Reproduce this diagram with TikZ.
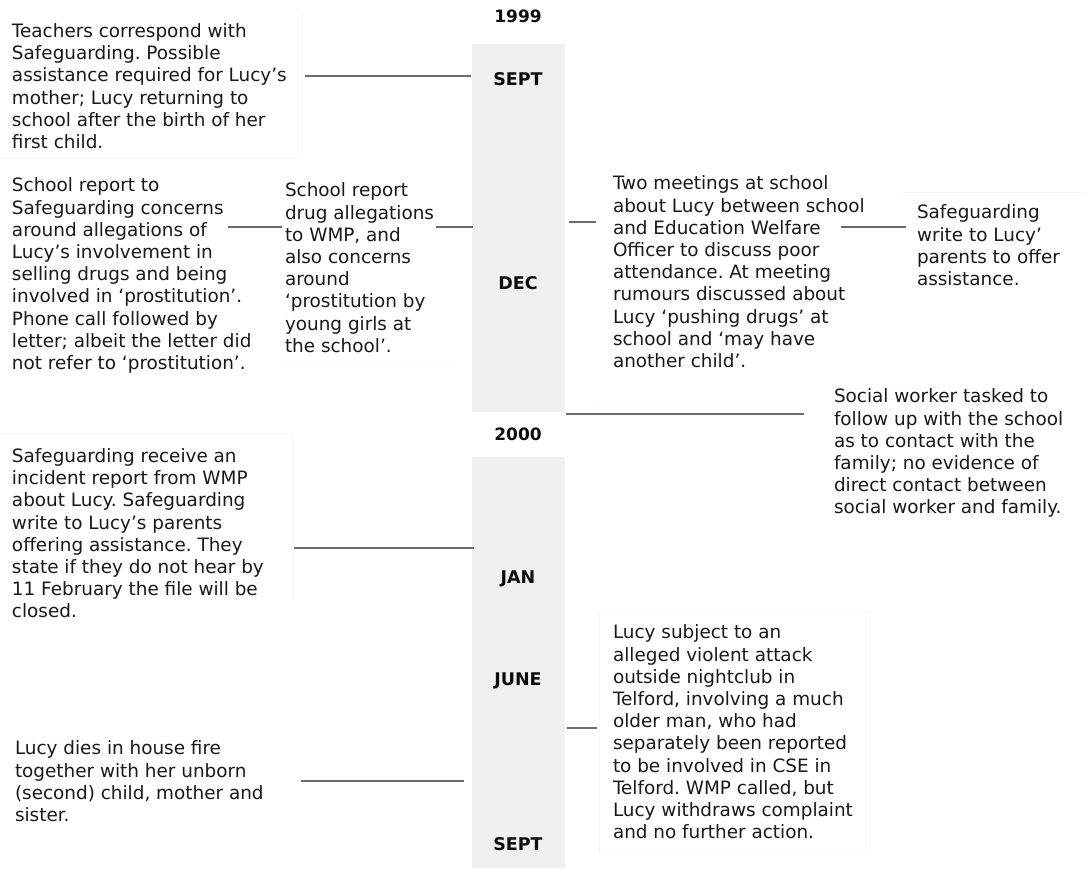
\documentclass[tikz,border=0pt]{standalone}
\usepackage{fontspec}
\setmainfont{DejaVu Sans}
\frenchspacing
\begin{document}
\begin{tikzpicture}[x=1pt,y=-1pt,
  every node/.style={inner sep=0pt, outer sep=0pt},
  note/.style={anchor=north west, align=left, text=black!90,
    font={\fontsize{18.4}{22.2}\selectfont}},
  month/.style={font={\fontsize{17.5}{19}\selectfont\bfseries}, text=black!95},
  year/.style={font={\fontsize{17}{19}\selectfont\bfseries}, text=black!95},
  bar/.style={fill=black!6, draw=none, minimum width=93pt},
  link/.style={draw=black!58, line width=1.8pt},
  frame/.style={draw=black!3, line width=0.8pt}
]
\useasboundingbox (0,0) rectangle (1087,868);
\fill[white] (0,0) rectangle (1087,868);

% faint outlines of the note frames
\draw[frame] (302,10) -- (302,158) -- (0,158);
\draw[frame] (280,365) -- (457,365);
\draw[frame] (595,403) -- (800,403);
\draw[frame] (900,192) -- (1087,192);
\draw[frame] (0,433) -- (292,433) -- (292,600);
\draw[frame] (599,612) rectangle (870,853);

% timeline bars
\node[bar, minimum height=368pt, anchor=north west] (bar1) at (472,44) {};
\node[bar, minimum height=411pt, anchor=north west] (bar2) at (472,457) {};

% years and months
\node[year] (y1999) at (518,16) {1999};
\node[year] (y2000) at (518,434) {2000};
\node[month] (sept1) at (518,79) {SEPT};
\node[month] (dec) at (518,283) {DEC};
\node[month] (jan) at (518,579) {JAN};
\node[month] (june) at (518,681) {JUNE};
\node[month] (sept2) at (518,844) {SEPT};

% event notes
\node[note] (teach) at (12,23.5) {Teachers correspond with\\Safeguarding. Possible\\assistance required for Lucy’s\\mother; Lucy returning to\\school after the birth of her\\first child.};
\node[note] (schoolsg) at (12,178) {School report to\\Safeguarding concerns\\around allegations of\\Lucy’s involvement in\\selling drugs and being\\involved in ‘prostitution’.\\Phone call followed by\\letter; albeit the letter did\\not refer to ‘prostitution’.};
\node[note] (schoolwmp) at (285,183) {School report\\drug allegations\\to WMP, and\\also concerns\\around\\‘prostitution by\\young girls at\\the school’.};
\node[note] (meet) at (613,176) {Two meetings at school\\about Lucy between school\\and Education Welfare\\Officer to discuss poor\\attendance. At meeting\\rumours discussed about\\Lucy ‘pushing drugs’ at\\school and ‘may have\\another child’.};
\node[note] (sgwrite) at (917,205) {Safeguarding\\write to Lucy’\\parents to offer\\assistance.};
\node[note] (social) at (834,389) {Social worker tasked to\\follow up with the school\\as to contact with the\\family; no evidence of\\direct contact between\\social worker and family.};
\node[note] (incident) at (12,448.5) {Safeguarding receive an\\incident report from WMP\\about Lucy. Safeguarding\\write to Lucy’s parents\\offering assistance. They\\state if they do not hear by\\11 February the file will be\\closed.};
\node[note] (attack) at (613,625) {Lucy subject to an\\alleged violent attack\\outside nightclub in\\Telford, involving a much\\older man, who had\\separately been reported\\to be involved in CSE in\\Telford. WMP called, but\\Lucy withdraws complaint\\and no further action.};
\node[note] (fire) at (15,741) {Lucy dies in house fire\\together with her unborn\\(second) child, mother and\\sister.};

% connector end points
\coordinate (c1a) at (305,76);   \coordinate (c1b) at (471,76);
\coordinate (c2a) at (228,227);  \coordinate (c2b) at (282,227);
\coordinate (c3a) at (436,227);  \coordinate (c3b) at (473,227);
\coordinate (c4a) at (569,222);  \coordinate (c4b) at (596,222);
\coordinate (c5a) at (841,227);  \coordinate (c5b) at (906,227);
\coordinate (c6a) at (566,414);  \coordinate (c6b) at (804,414);
\coordinate (c7a) at (294,548);  \coordinate (c7b) at (474,548);
\coordinate (c8a) at (301,781);  \coordinate (c8b) at (464,781);
\coordinate (c9a) at (567,728);  \coordinate (c9b) at (597,728);

% connectors
\draw[link] (c1a) -- (c1b);
\draw[link] (c2a) -- (c2b);
\draw[link] (c3a) -- (c3b);
\draw[link] (c4a) -- (c4b);
\draw[link] (c5a) -- (c5b);
\draw[link] (c6a) -- (c6b);
\draw[link] (c7a) -- (c7b);
\draw[link] (c8a) -- (c8b);
\draw[link] (c9a) -- (c9b);
\end{tikzpicture}
\end{document}
